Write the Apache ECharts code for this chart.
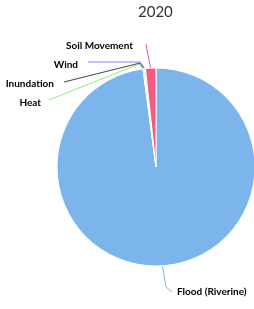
<!DOCTYPE html>
<html><head><meta charset="utf-8">
<script src="https://cdn.jsdelivr.net/npm/echarts@6/dist/echarts.min.js"></script>
<style>html,body{margin:0;padding:0;background:#fff}#c{width:254px;height:309px}</style>
</head><body><div id="c"></div>
<script>
const title = '2020';
const categories = ['Flood (Riverine)', 'Heat', 'Inundation', 'Wind', 'Soil Movement'];
const values = [97.9, 0.1, 0.1, 0.2, 1.7];
const colors = ['#7cb5ec', '#90ed7d', '#434348', '#8085e9', '#f15c80'];

// label placement (layout only)
const labelPos = [
  {x: 177, y: 292, align: 'left', mid: [166, 287], end: [172, 292]},
  {x: 41, y: 103, align: 'right', mid: [139, 64], end: [49, 100]},
  {x: 54, y: 84, align: 'right', mid: [140, 63], end: [64, 82]},
  {x: 78, y: 65, align: 'right', mid: [140, 62], end: [88, 62]},
  {x: 133, y: 46, align: 'right', mid: [147, 50], end: [146, 44]}
];

const chart = echarts.init(document.getElementById('c'), null, {renderer: 'canvas'});
chart.setOption({
  animation: false,
  title: {
    text: title, left: 138, top: 5, padding: 0,
    textStyle: {fontSize: 15, fontWeight: 'normal', color: '#333', fontFamily: 'Lato, sans-serif'}
  },
  series: [{
    type: 'pie',
    center: [156, 167],
    radius: 99,
    startAngle: 90,
    clockwise: true,
    minAngle: 0,
    avoidLabelOverlap: false,
    itemStyle: {borderColor: '#fff', borderWidth: 1},
    label: {
      show: true, color: '#000', fontSize: 10, fontWeight: 'bold',
      fontFamily: 'Lato, sans-serif'
    },
    labelLine: {show: true, length: 10, length2: 10, lineStyle: {width: 1}},
    labelLayout: function (p) {
      const lp = labelPos[p.dataIndex];
      const start = p.labelLinePoints ? p.labelLinePoints[0] : lp.mid;
      return {
        x: lp.x, y: lp.y, align: lp.align, verticalAlign: 'middle',
        labelLinePoints: [start, lp.mid, lp.end]
      };
    },
    data: categories.map((n, i) => ({
      name: n, value: values[i],
      itemStyle: {color: colors[i]},
      labelLine: {lineStyle: {color: colors[i]}}
    }))
  }]
});
</script></body></html>
